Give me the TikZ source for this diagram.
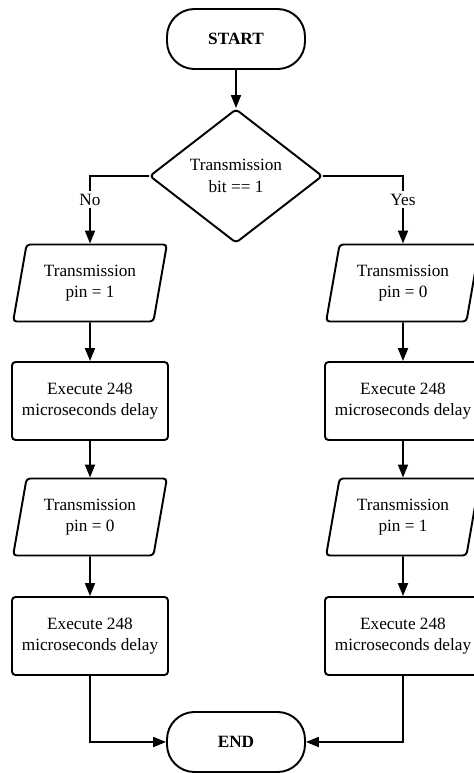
\documentclass[tikz,border=0pt]{standalone}
\usepackage{fontspec}
\setmainfont{Liberation Serif}
\usepackage{tikz}
\usetikzlibrary{calc}
\usetikzlibrary{shapes,arrows.meta,positioning}
\usetikzlibrary{shapes.geometric}

\begin{document}
\begin{tikzpicture}[transform shape,scale=1,
	every node/.style={font=\fontsize{9.8pt}{12.2pt}\selectfont,align=center},
	terminal/.style={draw,line width=1.1pt,rounded corners=0.55cm,minimum width=2.76cm,minimum height=1.2cm},
	decision/.style={draw,diamond,line width=1.1pt,rounded corners=2pt,minimum width=3.46cm,minimum height=2.68cm,inner sep=0pt},
	inout/.style={draw,trapezium,trapezium left angle=75,trapezium right angle=105,trapezium stretches=true,line width=1.1pt,rounded corners=2pt,minimum width=3.08cm,minimum height=1.54cm,inner sep=0pt},
	process/.style={draw,rectangle,line width=1.1pt,rounded corners=2pt,minimum width=3.12cm,minimum height=1.56cm},
	arr/.style={-{Triangle[length=0.26cm,width=0.2cm]},line width=1.1pt},
	lbl/.style={fill=white,inner sep=1.5pt}]
	\useasboundingbox (0,0) rectangle (9.46,-15.46);
	% top
	\node[terminal] (start) at (4.72,-0.78) {\textbf{START}};
	\node[decision] (test) at (4.72,-3.52) {Transmission\\bit == 1};
	% left branch
	\node[inout] (inL1) at (1.8,-5.66) {Transmission\\pin = 1};
	\node[process] (delL1) at (1.8,-8.02) {Execute 248\\microseconds delay};
	\node[inout] (inL2) at (1.8,-10.34) {Transmission\\pin = 0};
	\node[process] (delL2) at (1.8,-12.72) {Execute 248\\microseconds delay};
	% right branch
	\node[inout] (inR1) at (8.06,-5.66) {Transmission\\pin = 0};
	\node[process] (delR1) at (8.06,-8.02) {Execute 248\\microseconds delay};
	\node[inout] (inR2) at (8.06,-10.34) {Transmission\\pin = 1};
	\node[process] (delR2) at (8.06,-12.72) {Execute 248\\microseconds delay};
	% bottom
	\node[terminal] (stop) at (4.72,-14.84) {\textbf{END}};
	\draw[arr] (start) -- (test);
	\draw[arr] (test.west) -| node[lbl,pos=0.675] {No} (inL1);
	\draw[arr] (test.east) -| node[lbl,pos=0.675] {Yes} (inR1);
	\draw[arr] (inL1) -- (delL1);
	\draw[arr] (delL1) -- (inL2);
	\draw[arr] (inL2) -- (delL2);
	\draw[arr] (inR1) -- (delR1);
	\draw[arr] (delR1) -- (inR2);
	\draw[arr] (inR2) -- (delR2);
	\draw[arr] (delL2) |- (stop);
	\draw[arr] (delR2) |- (stop);
\end{tikzpicture}
\end{document}
